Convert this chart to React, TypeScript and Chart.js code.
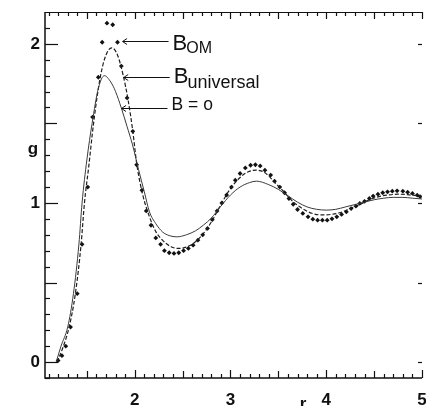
import React, { useEffect, useRef } from "react";
import { Chart, registerables } from "chart.js";

Chart.register(...registerables);

// B_OM (points)
const omR = [1.20,1.24,1.28,1.33,1.40,1.45,1.51,1.56,1.62,1.66,1.71,1.77,1.82,1.86,1.92,1.98,2.02,2.075,2.12,2.17,2.22,2.27,2.31,2.36,2.41,2.46,2.51,2.56,2.61,2.66,2.71,2.76,2.81,2.86,2.91,2.96,3.01,3.05,3.10,3.155,3.21,3.26,3.31,3.36,3.42,3.46,3.515,3.565,3.61,3.655,3.70,3.755,3.81,3.86,3.91,3.96,4.01,4.06,4.11,4.16,4.21,4.26,4.31,4.35,4.40,4.45,4.49,4.54,4.59,4.64,4.69,4.74,4.80,4.85,4.90,4.95,4.98];
const omG = [0.01,0.04,0.10,0.22,0.43,0.74,1.10,1.54,1.79,2.01,2.13,2.12,2.01,1.86,1.66,1.45,1.24,1.08,0.95,0.86,0.78,0.74,0.70,0.687,0.683,0.687,0.70,0.714,0.735,0.766,0.80,0.84,0.895,0.95,1.00,1.05,1.10,1.143,1.185,1.22,1.237,1.24,1.233,1.206,1.175,1.137,1.10,1.064,1.028,0.992,0.959,0.934,0.913,0.898,0.892,0.892,0.892,0.90,0.913,0.928,0.944,0.965,0.98,0.997,1.01,1.028,1.043,1.055,1.064,1.07,1.074,1.076,1.074,1.068,1.06,1.049,1.04];

// B_universal (dashed curve)
const univR = [1.19,1.255,1.315,1.38,1.44,1.475,1.52,1.57,1.64,1.70,1.76,1.82,1.88,1.93,1.98,2.02,2.08,2.15,2.22,2.29,2.38,2.46,2.55,2.635,2.72,2.80,2.90,3.00,3.10,3.18,3.27,3.36,3.46,3.55,3.65,3.75,3.85,3.95,4.05,4.15,4.25,4.35,4.45,4.55,4.65,4.75,4.85,4.95,5.0];
const univG = [0.0,0.10,0.22,0.43,0.74,1.00,1.23,1.50,1.79,1.93,1.975,1.93,1.80,1.65,1.45,1.25,1.06,0.92,0.82,0.766,0.725,0.714,0.725,0.756,0.81,0.88,0.99,1.09,1.16,1.195,1.206,1.19,1.13,1.075,1.01,0.965,0.935,0.925,0.928,0.94,0.965,0.99,1.02,1.04,1.05,1.055,1.052,1.045,1.04];

// B = 0 (thin curve)
const zeroR = [1.18,1.23,1.30,1.36,1.417,1.45,1.50,1.555,1.62,1.683,1.75,1.80,1.86,1.92,1.975,2.04,2.10,2.154,2.22,2.29,2.36,2.44,2.54,2.635,2.72,2.80,2.90,3.00,3.10,3.20,3.27,3.40,3.50,3.60,3.70,3.80,3.90,4.00,4.10,4.20,4.30,4.40,4.50,4.60,4.70,4.80,4.90,5.0];
const zeroG = [0.0,0.10,0.22,0.43,0.74,1.00,1.27,1.50,1.72,1.80,1.76,1.70,1.597,1.48,1.37,1.21,1.07,0.944,0.87,0.818,0.795,0.787,0.80,0.825,0.862,0.905,0.98,1.05,1.10,1.128,1.137,1.115,1.085,1.045,1.005,0.975,0.96,0.955,0.96,0.975,0.99,1.005,1.02,1.03,1.035,1.035,1.03,1.025];

const xTickLabels = [2, 3, 4, 5];
const yTickLabels = [0, 1, 2];

const xAxisTitle = "r";
const yAxisTitle = "g";

// annotation labels with arrow tip (data coords)
const labelMain = ["B", "B", "B = o"];
const labelSub = ["OM", "universal", ""];
const arrowTipR = [1.873, 1.885, 1.862];
const arrowTipG = [2.019, 1.793, 1.597];

const FONT = "'Liberation Sans', Arial, Helvetica, sans-serif";

const toPts = (xs: number[], ys: number[]) => xs.map((x, i) => ({ x, y: ys[i] }));

const decorPlugin = {
  id: "decor",
  afterDraw(chart: any) {
    const ctx = chart.ctx as CanvasRenderingContext2D;
    const { left, right, top, bottom } = chart.chartArea;
    const xs = chart.scales.x;
    const ys = chart.scales.y;
    ctx.save();
    ctx.strokeStyle = "#111";
    ctx.fillStyle = "#111";

    // frame
    ctx.lineWidth = 1.5;
    ctx.beginPath();
    ctx.moveTo(left, top);
    ctx.lineTo(left, bottom);
    ctx.lineTo(right, bottom);
    ctx.stroke();
    ctx.lineWidth = 1;
    ctx.beginPath();
    ctx.moveTo(left, top + 0.5);
    ctx.lineTo(right, top + 0.5);
    ctx.stroke();

    // x ticks (inward)
    ctx.lineWidth = 1.2;
    for (let i = 11; i <= 50; i++) {
      const px = Math.round(xs.getPixelForValue(i / 10)) + 0.5;
      const lenB = i % 10 === 0 ? 8 : i % 5 === 0 ? 7 : 4;
      const lenT = i % 5 === 0 ? 7 : 4;
      ctx.beginPath();
      ctx.moveTo(px, bottom);
      ctx.lineTo(px, bottom - lenB);
      ctx.stroke();
      ctx.beginPath();
      ctx.moveTo(px, top);
      ctx.lineTo(px, top + lenT);
      ctx.stroke();
    }
    // y ticks (inward)
    for (let i = -1; i <= 21; i++) {
      const py = Math.round(ys.getPixelForValue(i / 10)) + 0.5;
      const len = i % 10 === 0 ? 13 : i % 5 === 0 ? 12 : 5;
      ctx.beginPath();
      ctx.moveTo(left, py);
      ctx.lineTo(left + len, py);
      ctx.stroke();
      if (i % 5 === 0) {
        ctx.beginPath();
        ctx.moveTo(right, py);
        ctx.lineTo(right - 4, py);
        ctx.stroke();
      }
    }

    // axis titles
    ctx.font = `bold 17px ${FONT}`;
    ctx.textAlign = "center";
    ctx.textBaseline = "alphabetic";
    ctx.fillText(yAxisTitle, 33, 154);
    ctx.fillText(xAxisTitle, 303, 409);

    // annotations
    for (let k = 0; k < labelMain.length; k++) {
      const tx = xs.getPixelForValue(arrowTipR[k]);
      const ty = Math.round(ys.getPixelForValue(arrowTipG[k])) + 0.5;
      const tail = tx + 46;
      ctx.lineWidth = 1;
      ctx.beginPath();
      ctx.moveTo(tx, ty);
      ctx.lineTo(tail, ty);
      ctx.moveTo(tx + 4.5, ty - 3);
      ctx.lineTo(tx, ty);
      ctx.lineTo(tx + 4.5, ty + 3);
      ctx.stroke();
      const textX = tail + 4;
      ctx.textAlign = "left";
      if (labelSub[k]) {
        ctx.font = `22px ${FONT}`;
        const mainBase = k === 0 ? ty + 8.5 : ty + 5;
        ctx.fillText(labelMain[k], textX, mainBase);
        const w = ctx.measureText(labelMain[k]).width;
        ctx.font = k === 0 ? `16px ${FONT}` : `18px ${FONT}`;
        const subBase = k === 0 ? ty + 11.5 : ty + 10.5;
        ctx.fillText(labelSub[k], textX + w - 1, subBase);
      } else {
        ctx.font = `17.5px ${FONT}`;
        ctx.fillText(labelMain[k], textX, ty + 1.5);
      }
    }
    ctx.restore();
  },
};

export default function App() {
  const ref = useRef<HTMLCanvasElement | null>(null);
  useEffect(() => {
    if (!ref.current) return;
    const chart = new Chart(ref.current, {
      type: "scatter",
      data: {
        datasets: [
          {
            label: "B = 0",
            type: "line",
            data: toPts(zeroR, zeroG),
            borderColor: "#3a3a3a",
            borderWidth: 1,
            pointRadius: 0,
            cubicInterpolationMode: "monotone",
            fill: false,
          },
          {
            label: "B universal",
            type: "line",
            data: toPts(univR, univG),
            borderColor: "#1e1e1e",
            borderWidth: 1.2,
            borderDash: [4, 2],
            pointRadius: 0,
            cubicInterpolationMode: "monotone",
            fill: false,
          },
          {
            label: "B OM",
            data: toPts(omR, omG),
            pointStyle: "rectRot",
            pointRadius: 2.4,
            pointBackgroundColor: "#111",
            pointBorderColor: "#111",
            pointBorderWidth: 0,
            showLine: false,
          },
        ],
      },
      options: {
        responsive: false,
        animation: false,
        devicePixelRatio: 1,
        layout: { padding: { top: 12, right: 0, left: 0, bottom: 0 } },
        plugins: { legend: { display: false }, tooltip: { enabled: false } },
        scales: {
          x: {
            type: "linear",
            min: 1.063,
            max: 5.0,
            grid: { display: false, drawTicks: false },
            border: { display: false },
            afterBuildTicks: (s: any) => {
              s.ticks = xTickLabels.map((v) => ({ value: v }));
            },
            afterFit: (s: any) => {
              s.height = 28;
              s.paddingLeft = 0;
              s.paddingRight = 0;
            },
            ticks: {
              autoSkip: false,
              maxRotation: 0,
              padding: 12,
              color: "#111",
              font: { family: FONT, size: 17, weight: "bold" },
              callback: (v: any) => String(v),
            },
          },
          y: {
            type: "linear",
            min: -0.1,
            max: 2.2,
            grid: { display: false, drawTicks: false },
            border: { display: false },
            afterBuildTicks: (s: any) => {
              s.ticks = yTickLabels.map((v) => ({ value: v }));
            },
            afterFit: (s: any) => {
              s.width = 45;
              s.paddingTop = 0;
              s.paddingBottom = 0;
            },
            ticks: {
              autoSkip: false,
              padding: 5,
              color: "#111",
              font: { family: FONT, size: 17, weight: "bold" },
              callback: (v: any) => String(v),
            },
          },
        },
      },
      plugins: [decorPlugin],
    } as any);
    return () => chart.destroy();
  }, []);
  return (
    <div style={{ position: "fixed", left: 0, top: 0, width: 426, height: 406, background: "#fff" }}>
      <canvas ref={ref} width={426} height={406} style={{ display: "block", width: 426, height: 406 }} />
    </div>
  );
}
